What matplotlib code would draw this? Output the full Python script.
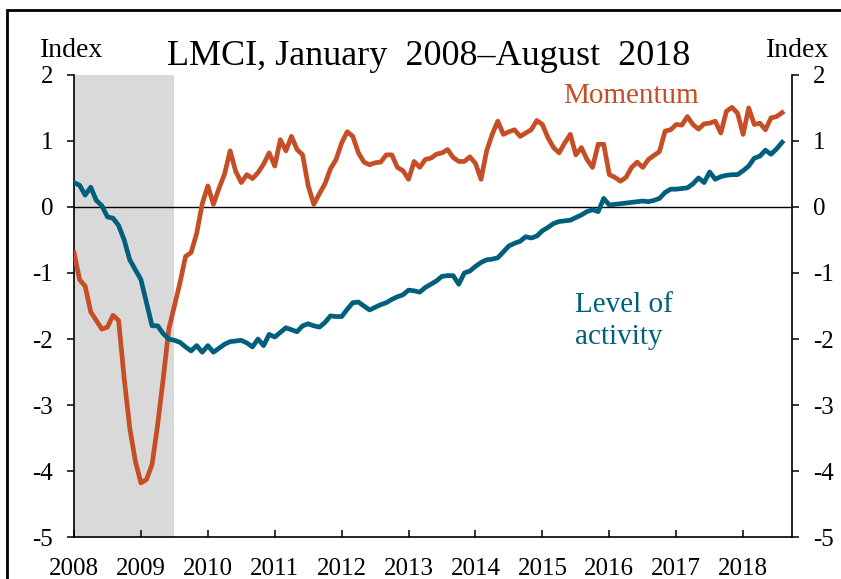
import numpy as np
import matplotlib
matplotlib.use("Agg")
import matplotlib.pyplot as plt
from matplotlib.patches import Rectangle

plt.rcParams['font.family'] = ['Liberation Serif', 'DejaVu Serif']

start_year = 2008
n_months = 128  # Jan 2008 - Aug 2018

momentum = [
    -0.69, -1.10, -1.20, -1.59, -1.72, -1.85, -1.82, -1.64, -1.72, -2.60,
    -3.35, -3.85, -4.18, -4.13, -3.90, -3.30, -2.60, -1.85, -1.50, -1.15,
    -0.75, -0.69, -0.40, 0.05, 0.32, 0.04, 0.28, 0.50, 0.85, 0.54,
    0.37, 0.49, 0.43, 0.52, 0.65, 0.82, 0.62, 1.02, 0.85, 1.07,
    0.87, 0.79, 0.32, 0.04, 0.20, 0.35, 0.58, 0.72, 0.97, 1.14,
    1.07, 0.82, 0.68, 0.64, 0.67, 0.68, 0.79, 0.79, 0.60, 0.55,
    0.42, 0.69, 0.60, 0.72, 0.74, 0.80, 0.82, 0.87, 0.75, 0.69,
    0.69, 0.76, 0.66, 0.42, 0.85, 1.10, 1.30, 1.10, 1.14, 1.17,
    1.07, 1.12, 1.17, 1.31, 1.25, 1.05, 0.90, 0.82, 0.97, 1.10,
    0.79, 0.90, 0.72, 0.60, 0.95, 0.95, 0.49, 0.45, 0.39, 0.45,
    0.60, 0.68, 0.60, 0.72, 0.78, 0.84, 1.15, 1.17, 1.25, 1.24,
    1.37, 1.25, 1.18, 1.26, 1.27, 1.30, 1.12, 1.45, 1.51, 1.42,
    1.10, 1.50, 1.25, 1.27, 1.17, 1.35, 1.37, 1.43,
]

level = [
    0.37, 0.33, 0.18, 0.30, 0.10, 0.02, -0.15, -0.17, -0.28, -0.50,
    -0.80, -0.95, -1.10, -1.45, -1.80, -1.80, -1.92, -2.00, -2.02, -2.05,
    -2.12, -2.18, -2.10, -2.20, -2.10, -2.20, -2.14, -2.08, -2.04, -2.03,
    -2.02, -2.06, -2.12, -2.00, -2.10, -1.93, -1.97, -1.90, -1.83, -1.86,
    -1.89, -1.80, -1.77, -1.80, -1.82, -1.75, -1.65, -1.66, -1.66, -1.55,
    -1.45, -1.44, -1.50, -1.56, -1.52, -1.48, -1.45, -1.40, -1.36, -1.33,
    -1.26, -1.27, -1.29, -1.22, -1.17, -1.12, -1.05, -1.04, -1.04, -1.17,
    -1.00, -0.97, -0.90, -0.84, -0.80, -0.79, -0.77, -0.68, -0.59, -0.55,
    -0.52, -0.45, -0.47, -0.44, -0.36, -0.31, -0.25, -0.22, -0.21, -0.20,
    -0.16, -0.12, -0.07, -0.04, -0.07, 0.13, 0.03, 0.04, 0.05, 0.06,
    0.07, 0.08, 0.09, 0.08, 0.10, 0.13, 0.22, 0.27, 0.27, 0.28,
    0.29, 0.35, 0.44, 0.37, 0.53, 0.42, 0.46, 0.48, 0.49, 0.49,
    0.55, 0.62, 0.74, 0.77, 0.86, 0.80, 0.88, 0.98,
]

years = list(range(2008, 2019))
year_labels = [str(y) for y in years]
y_ticks = [2, 1, 0, -1, -2, -3, -4, -5]
recession = (2008.0, 2009.5)

x = start_year + np.arange(n_months) / 12.0

ORANGE = '#C54E26'
TEAL = '#005F7D'

fig = plt.figure(figsize=(8.41, 5.79), dpi=100)
ax = fig.add_axes([0.088, 0.0725, 0.8537, 0.798])

ax.axvspan(recession[0], recession[1], color='#D9D9D9', lw=0, zorder=0)
ax.axhline(0, color='black', lw=1.0, zorder=1)
ax.plot(x, momentum, color=ORANGE, lw=3.4, zorder=3, solid_joinstyle='round')
ax.plot(x, level, color=TEAL, lw=3.4, zorder=3, solid_joinstyle='round')

ax.set_xlim(2008, 2018.73)
ax.set_ylim(-5, 2)

ax.spines['top'].set_visible(False)
for s in ['left', 'right', 'bottom']:
    ax.spines[s].set_linewidth(1.2)

ax.set_xticks(years)
ax.set_xticklabels(year_labels)
ax.set_yticks(y_ticks)
ax.set_yticklabels([str(v) for v in y_ticks])
ax.tick_params(axis='x', direction='in', length=5, width=1.1, labelsize=18, pad=15)
ax.tick_params(axis='y', direction='out', length=5, width=1.1, labelsize=18, pad=10,
               left=True, right=True, labelleft=True, labelright=True)

ax.text(2016.33, 1.68, 'Momentum', color=ORANGE, fontsize=21, ha='center', va='center')
ax.text(2015.49, -1.72, 'Level of\nactivity', color=TEAL, fontsize=21, ha='left', va='center',
        linespacing=1.3)

fig.text(0.510, 0.903, 'LMCI, January  2008\u2013August  2018', fontsize=26, ha='center', va='center')
fig.text(0.0856, 0.912, 'Index', fontsize=20, ha='center', va='center')
fig.text(0.948, 0.912, 'Index', fontsize=20, ha='center', va='center')

frame = Rectangle((7 / 841, -0.1), 1.2, 0.1 + (1 - 10 / 579), transform=fig.transFigure,
                  fill=False, edgecolor='black', lw=2.0, clip_on=False)
fig.patches.append(frame)

fig.savefig('out.png', dpi=100)
